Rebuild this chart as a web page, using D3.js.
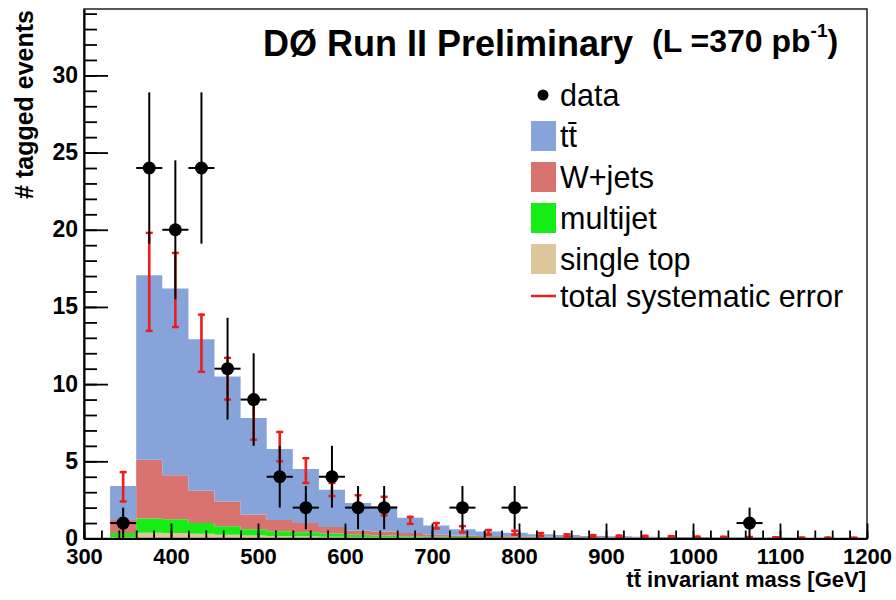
<!DOCTYPE html>
<html>
<head>
<meta charset="utf-8">
<script src="https://cdn.jsdelivr.net/npm/d3@7"></script>
<style>
body { margin: 0; background: #fff; }
text { font-family: "Liberation Sans", Arial, Helvetica, sans-serif; }
</style>
</head>
<body>
<div id="chart"></div>
<script>
// bin centres, 30 GeV wide
var massBins = [345, 375, 405, 435, 465, 495, 525, 555, 585, 615, 645, 675, 705, 735, 765,
                795, 825, 855, 885, 915, 945, 975, 1005, 1035, 1065, 1095, 1125, 1155, 1185];

var dataCounts = [1, 24, 20, 24, 11, 9, 4, 2, 4, 2, 2, 0, 0, 2, 0, 2, 0, 0, 0, 0, 0, 0, 0, 0, 1, 0, 0, 0, 0];
var dataErr    = [1, 4.9, 4.5, 4.9, 3.3, 3, 2, 1.4, 2, 1.4, 1.4, 0, 0, 1.4, 0, 1.4, 0, 0, 0, 0, 0, 0, 0, 0, 1, 0, 0, 0, 0];

var singleTop = [0.1, 0.37, 0.35, 0.3, 0.25, 0.2, 0.17, 0.14, 0.12, 0.1, 0.08, 0.06, 0.05, 0.04, 0.03,
                 0.03, 0.02, 0.02, 0.02, 0.01, 0.01, 0.01, 0.01, 0.01, 0.01, 0.01, 0, 0, 0];
var multijet  = [0.25, 0.93, 0.9, 0.7, 0.55, 0.4, 0.3, 0.26, 0.21, 0.15, 0.12, 0.09, 0.07, 0.06, 0.05,
                 0.04, 0.04, 0.03, 0.03, 0.02, 0.02, 0.02, 0.01, 0.01, 0.01, 0.01, 0.01, 0.01, 0.01];
var wjets     = [0.85, 3.8, 2.85, 2.1, 1.6, 0.95, 0.73, 0.6, 0.42, 0.25, 0.25, 0.2, 0.13, 0.1, 0.09,
                 0.08, 0.06, 0.05, 0.04, 0.03, 0.03, 0.02, 0.02, 0.02, 0.02, 0.01, 0.01, 0.01, 0.01];
var ttbar     = [2.2, 11.95, 12.1, 9.8, 8.1, 6.25, 4.6, 3.5, 2.4, 1.8, 1.65, 1.0, 0.6, 0.4, 0.28,
                 0.23, 0.16, 0.12, 0.08, 0.08, 0.06, 0.05, 0.04, 0.03, 0.02, 0.02, 0.02, 0.02, 0.01];

// total systematic error, down / up
var sysDown = [1.0, 3.6, 2.5, 2.1, 1.5, 1.4, 0.8, 0.9, 0.4, 0.5, 0.6, 0.4, 0.2, 0.2, 0.2,
               0.13, 0.12, 0.1, 0.08, 0.05, 0.05, 0.05, 0.04, 0.04, 0.04, 0.03, 0.02, 0.02, 0.02];
var sysUp   = [0.9, 2.75, 2.3, 1.6, 1.2, 1.3, 1.1, 0.7, 0.45, 0.5, 0.6, 0.05, 0.15, 0.2, 0.1,
               0.12, 0.07, 0.05, 0.05, 0.05, 0.05, 0.05, 0.04, 0.04, 0.04, 0.03, 0.02, 0.02, 0.02];

var xTicks = [300, 400, 500, 600, 700, 800, 900, 1000, 1100, 1200];
var yTicks = [0, 5, 10, 15, 20, 25, 30];

var binHalf = 15;
var keys = ["singleTop", "multijet", "wjets", "ttbar"];
var colors = {singleTop: "#dec69c", multijet: "#14ee14", wjets: "#d9736f", ttbar: "#86a4da"};
var sysColor = "#ee1c1c";

var table = massBins.map(function(m, i) {
	return {m: m, singleTop: singleTop[i], multijet: multijet[i], wjets: wjets[i], ttbar: ttbar[i]};
});

var W = 896, H = 600;
var x = d3.scaleLinear().domain([300, 1200]).range([84, 867]);
var y = d3.scaleLinear().domain([0, 34.3]).range([538.5, 9]);

var svg = d3.select("#chart").append("svg").attr("width", W).attr("height", H);

// stacked histogram
var layers = d3.stack().keys(keys)(table);

var area = d3.area()
	.x(function(p) { return p.x; })
	.y0(function(p) { return y(p.y0); })
	.y1(function(p) { return y(p.y1); });

layers.forEach(function(layer) {
	var pts = [];
	layer.forEach(function(d) {
		pts.push({x: x(d.data.m - binHalf), y0: d[0], y1: d[1]});
		pts.push({x: x(d.data.m + binHalf), y0: d[0], y1: d[1]});
	});
	svg.append("path")
		.attr("d", area(pts))
		.attr("fill", colors[layer.key]);
});

// systematic error bars on the total
var totalLayer = layers[layers.length - 1];
var sys = svg.append("g");
totalLayer.forEach(function(d, i) {
	var cx = x(d.data.m);
	var lo = y(d[1] - sysDown[i]), hi = y(d[1] + sysUp[i]);
	sys.append("rect")
		.attr("x", cx - 1.3).attr("y", hi - 1.2)
		.attr("width", 2.6).attr("height", Math.max(lo - hi + 2.4, 3))
		.attr("fill", sysColor);
	sys.append("rect").attr("x", cx - 3.5).attr("y", hi - 1.2).attr("width", 7).attr("height", 2.4).attr("fill", sysColor);
	sys.append("rect").attr("x", cx - 3.5).attr("y", lo - 1.2).attr("width", 7).attr("height", 2.4).attr("fill", sysColor);
});

// data points
var dots = svg.append("g");
massBins.forEach(function(m, i) {
	if (dataCounts[i] <= 0) return;
	var v = dataCounts[i], e = dataErr[i];
	dots.append("line")
		.attr("x1", x(m)).attr("x2", x(m))
		.attr("y1", y(Math.max(v - e, 0))).attr("y2", y(v + e))
		.attr("stroke", "#000").attr("stroke-width", 2);
	dots.append("line")
		.attr("x1", x(m - binHalf)).attr("x2", x(m + binHalf))
		.attr("y1", y(v)).attr("y2", y(v))
		.attr("stroke", "#000").attr("stroke-width", 2);
	dots.append("circle")
		.attr("cx", x(m)).attr("cy", y(v)).attr("r", 6.5)
		.attr("fill", "#000");
});

// frame
svg.append("rect")
	.attr("x", 84).attr("y", 9)
	.attr("width", 867 - 84).attr("height", 538.5 - 9)
	.attr("fill", "none").attr("stroke", "#222").attr("stroke-width", 1.5);

// axes
var xMinor = d3.range(300, 1201, 20);
var yMinor = d3.range(0, 34.3, 1);

svg.append("g").attr("transform", "translate(0,538.5)")
	.call(d3.axisBottom(x).tickValues(xMinor).tickSize(-8).tickFormat(""))
	.call(function(g) { g.select(".domain").remove(); })
	.selectAll("line").attr("stroke", "#000").attr("stroke-width", 1.8);

var xAxis = svg.append("g").attr("transform", "translate(0,538.5)")
	.call(d3.axisBottom(x).tickValues(xTicks).tickSize(-15).tickSizeOuter(0).tickPadding(10).tickFormat(d3.format("d")));
xAxis.selectAll("line").attr("stroke", "#000").attr("stroke-width", 1.8);
xAxis.select(".domain").attr("stroke", "#000").attr("stroke-width", 2);
xAxis.selectAll("text")
	.attr("font-family", "Liberation Sans, Arial, sans-serif")
	.attr("font-size", 22).attr("font-weight", "bold").attr("fill", "#000");

svg.append("g").attr("transform", "translate(84,0)")
	.call(d3.axisLeft(y).tickValues(yMinor).tickSize(-13).tickFormat(""))
	.call(function(g) { g.select(".domain").remove(); })
	.selectAll("line").attr("stroke", "#000").attr("stroke-width", 1.8);

var yAxis = svg.append("g").attr("transform", "translate(84,0)")
	.call(d3.axisLeft(y).tickValues(yTicks).tickSize(-24).tickSizeOuter(0).tickPadding(6));
yAxis.selectAll("line").attr("stroke", "#000").attr("stroke-width", 1.8);
yAxis.select(".domain").attr("stroke", "#000").attr("stroke-width", 2);
yAxis.selectAll("text")
	.attr("font-family", "Liberation Sans, Arial, sans-serif")
	.attr("font-size", 23).attr("font-weight", "bold").attr("fill", "#000")
	.attr("dy", "0.3em");

// axis titles
svg.append("text")
	.attr("x", 866).attr("y", 587)
	.attr("text-anchor", "end")
	.attr("font-size", 22).attr("font-weight", "bold")
	.text("tt\u0304 invariant mass [GeV]");

svg.append("text")
	.attr("transform", "translate(33,10) rotate(-90)")
	.attr("text-anchor", "end")
	.attr("font-size", 25).attr("font-weight", "bold")
	.text("# tagged events");

// title
svg.append("text")
	.attr("x", 263).attr("y", 56)
	.attr("font-size", 36).attr("font-weight", "bold")
	.text("D\u00d8 Run II Preliminary");

var lumi = svg.append("text")
	.attr("x", 652).attr("y", 52)
	.attr("font-size", 32).attr("font-weight", "bold");
lumi.append("tspan").text("(L =370 pb");
lumi.append("tspan").attr("font-size", 19).attr("dy", -15).text("-1");
lumi.append("tspan").attr("dy", 15).text(")");

// legend
var legendRows = [
	{label: "data", type: "dot"},
	{label: "tt\u0304", type: "box", key: "ttbar"},
	{label: "W+jets", type: "box", key: "wjets"},
	{label: "multijet", type: "box", key: "multijet"},
	{label: "single top", type: "box", key: "singleTop"},
	{label: "total systematic error", type: "line"}
];
var rowY = [95, 136, 177, 218, 259, 296];

var leg = svg.append("g");
legendRows.forEach(function(r, i) {
	var cy = rowY[i];
	if (r.type == "dot") {
		leg.append("circle").attr("cx", 543).attr("cy", cy).attr("r", 5.5).attr("fill", "#000");
	} else if (r.type == "box") {
		leg.append("rect").attr("x", 531).attr("y", cy - 15).attr("width", 25).attr("height", 30)
			.attr("fill", colors[r.key]);
	} else {
		leg.append("line").attr("x1", 531).attr("x2", 556).attr("y1", cy).attr("y2", cy)
			.attr("stroke", sysColor).attr("stroke-width", 2.5);
	}
	leg.append("text")
		.attr("x", 560).attr("y", cy + 11)
		.attr("font-size", 30.5)
		.text(r.label);
});
</script>
</body>
</html>
